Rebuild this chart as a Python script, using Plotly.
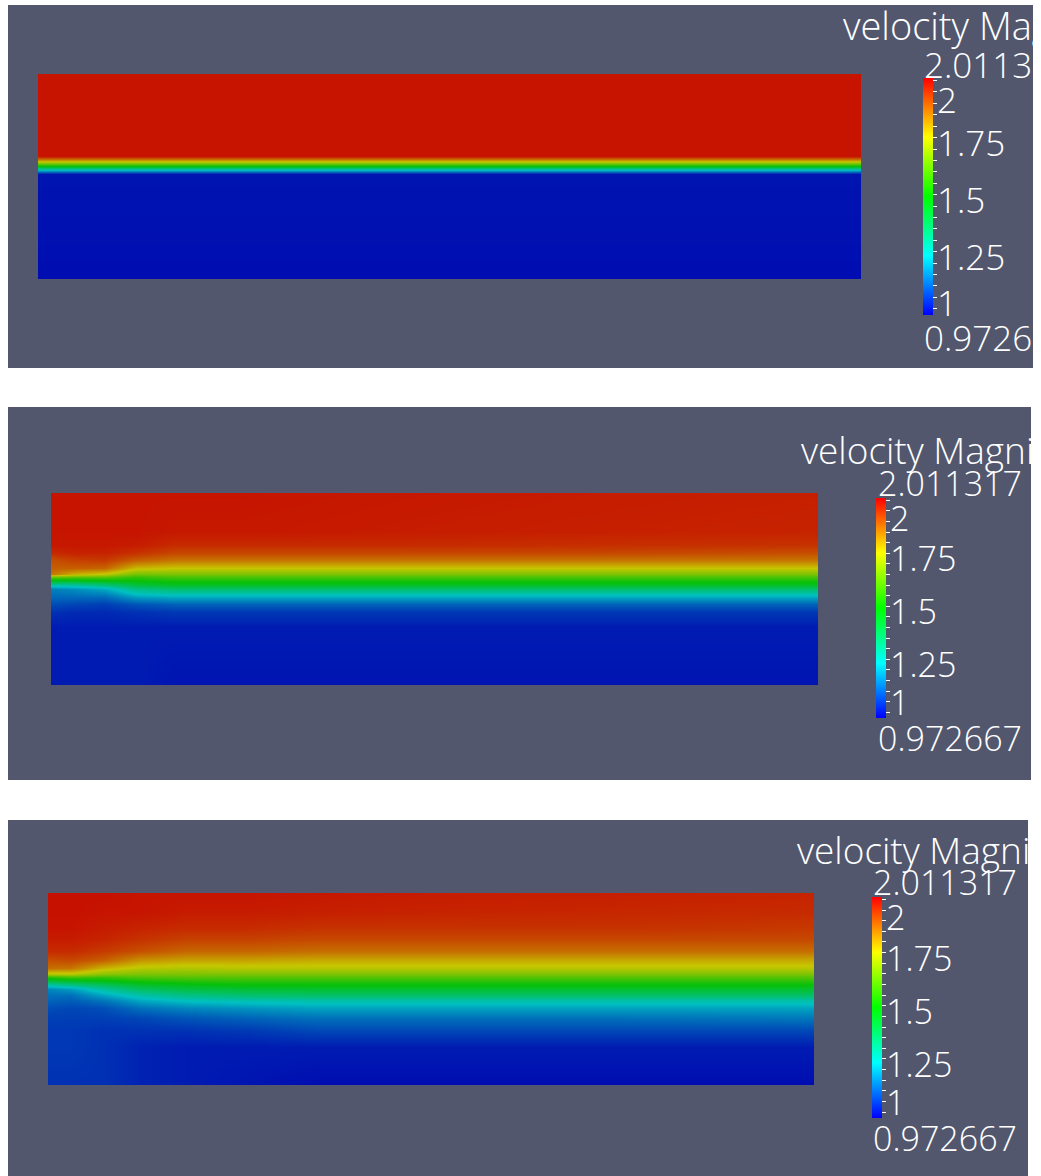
import plotly.graph_objects as go

# ---------------- data (velocity magnitude) ----------------
VMIN = 0.972667
VMAX = 2.011317
COLORBAR_TITLE = "velocity Magnitude"
TICK_VALUES = [2.0, 1.75, 1.5, 1.25, 1.0]

# Panel 1: x stations (fraction of channel length), depth rows (fraction from top)
P1_X = [0.0, 1.0]
P1_DEPTH = [0.0, 0.40, 0.415, 0.43, 0.447, 0.463, 0.478, 0.49, 1.0]
P1_PROFILES = [
    [1.99, 1.99, 1.87, 1.72, 1.49, 1.28, 1.10, 0.99, 0.98],
    [1.99, 1.99, 1.87, 1.72, 1.49, 1.28, 1.10, 0.99, 0.98],
]

# Panel 2
P2_X = [0.0, 0.03, 0.07, 0.11, 0.16, 0.25, 0.45, 0.70, 1.0]
P2_DEPTH = [0.0, 0.20, 0.27, 0.31, 0.35, 0.39, 0.42, 0.44, 0.46, 0.48, 0.50, 0.54, 0.58, 0.62, 0.70, 1.0]
P2_PROFILES = [
    [1.99, 1.99, 1.985, 1.96, 1.91, 1.89, 1.86, 1.62, 1.44, 1.26, 1.14, 1.11, 1.07, 1.03, 1.00, 1.00],
    [1.99, 1.99, 1.985, 1.97, 1.93, 1.89, 1.78, 1.60, 1.44, 1.28, 1.16, 1.11, 1.06, 1.02, 1.00, 1.00],
    [1.99, 1.99, 1.985, 1.97, 1.94, 1.88, 1.74, 1.60, 1.47, 1.33, 1.20, 1.11, 1.05, 1.02, 1.00, 1.00],
    [1.99, 1.99, 1.98, 1.95, 1.89, 1.77, 1.64, 1.55, 1.49, 1.41, 1.31, 1.18, 1.08, 1.03, 1.00, 1.00],
    [1.99, 1.985, 1.96, 1.92, 1.86, 1.75, 1.65, 1.58, 1.51, 1.45, 1.35, 1.20, 1.10, 1.04, 1.00, 0.99],
    [1.99, 1.985, 1.96, 1.92, 1.86, 1.75, 1.65, 1.58, 1.51, 1.45, 1.35, 1.20, 1.10, 1.04, 1.00, 0.99],
    [1.985, 1.98, 1.96, 1.92, 1.86, 1.75, 1.65, 1.58, 1.51, 1.45, 1.35, 1.20, 1.10, 1.04, 1.00, 0.99],
    [1.98, 1.975, 1.955, 1.92, 1.86, 1.75, 1.65, 1.58, 1.51, 1.45, 1.35, 1.20, 1.10, 1.04, 1.00, 0.99],
    [1.975, 1.97, 1.95, 1.91, 1.86, 1.75, 1.65, 1.58, 1.51, 1.45, 1.35, 1.20, 1.10, 1.04, 1.00, 0.99],
]

# Panel 3
P3_X = [0.0, 0.03, 0.07, 0.12, 0.18, 0.26, 0.35, 0.50, 0.75, 1.0]
P3_DEPTH = [0.0, 0.10, 0.18, 0.24, 0.30, 0.35, 0.39, 0.42, 0.44, 0.46, 0.48, 0.50, 0.53, 0.56, 0.60, 0.65, 0.72, 0.80, 1.0]
P3_PROFILES = [
    [1.995, 1.995, 1.99, 1.98, 1.96, 1.91, 1.87, 1.72, 1.54, 1.41, 1.26, 1.15, 1.12, 1.10, 1.07, 1.05, 1.04, 1.04, 1.03],
    [1.995, 1.995, 1.99, 1.98, 1.96, 1.92, 1.86, 1.73, 1.58, 1.44, 1.31, 1.18, 1.12, 1.09, 1.06, 1.05, 1.04, 1.04, 1.03],
    [1.995, 1.99, 1.98, 1.97, 1.94, 1.89, 1.78, 1.67, 1.56, 1.47, 1.37, 1.28, 1.19, 1.12, 1.07, 1.05, 1.03, 1.03, 1.03],
    [1.99, 1.99, 1.97, 1.95, 1.91, 1.82, 1.73, 1.65, 1.59, 1.51, 1.44, 1.37, 1.27, 1.19, 1.12, 1.06, 1.03, 1.01, 1.01],
    [1.99, 1.98, 1.96, 1.93, 1.88, 1.80, 1.72, 1.65, 1.60, 1.53, 1.47, 1.41, 1.32, 1.23, 1.15, 1.08, 1.03, 1.00, 1.00],
    [1.99, 1.98, 1.96, 1.93, 1.88, 1.80, 1.73, 1.65, 1.60, 1.54, 1.49, 1.43, 1.35, 1.25, 1.17, 1.10, 1.04, 1.00, 0.99],
    [1.985, 1.975, 1.95, 1.92, 1.87, 1.79, 1.73, 1.65, 1.60, 1.54, 1.49, 1.44, 1.36, 1.26, 1.19, 1.12, 1.06, 1.00, 0.98],
    [1.98, 1.97, 1.95, 1.92, 1.87, 1.79, 1.73, 1.65, 1.60, 1.54, 1.49, 1.44, 1.36, 1.26, 1.19, 1.12, 1.06, 1.00, 0.98],
    [1.975, 1.965, 1.95, 1.92, 1.87, 1.79, 1.73, 1.65, 1.60, 1.54, 1.49, 1.44, 1.36, 1.26, 1.19, 1.12, 1.06, 1.00, 0.98],
    [1.97, 1.96, 1.94, 1.92, 1.87, 1.79, 1.73, 1.65, 1.60, 1.54, 1.49, 1.44, 1.36, 1.26, 1.19, 1.13, 1.06, 1.00, 0.98],
]

# ---------------- layout / style ----------------
W, H = 1041, 1176
BG = "#52576E"
FONT = "Open Sans"

DARK = [[0.0, "rgb(0,8,176)"], [0.25, "rgb(0,192,194)"], [0.5, "rgb(6,192,10)"],
        [0.75, "rgb(198,198,0)"], [1.0, "rgb(198,4,0)"]]
BRIGHT = [[0.0, "rgb(0,0,255)"], [0.25, "rgb(0,255,255)"], [0.5, "rgb(0,255,0)"],
          [0.75, "rgb(255,255,0)"], [1.0, "rgb(255,0,0)"]]


def fx(px):
    return px / W


def fy(py):
    return 1 - py / H


PANELS = [
    dict(bg=(8, 5, 1033, 368), rect=(38, 74, 861, 279), bar=(923, 78, 315),
         title=(841, 25), top=(922, 65), bot=(922, 338), tsize=38, nsize=35,
         X=P1_X, D=P1_DEPTH, P=P1_PROFILES),
    dict(bg=(8, 407, 1031, 780), rect=(51, 493, 818, 685), bar=(876, 498, 718),
         title=(799, 449), top=(876, 483), bot=(876, 738), tsize=37, nsize=34,
         X=P2_X, D=P2_DEPTH, P=P2_PROFILES),
    dict(bg=(8, 820, 1028, 1176), rect=(48, 893, 814, 1085), bar=(872, 897, 1118),
         title=(795, 849), top=(871, 882), bot=(871, 1138), tsize=37, nsize=34,
         X=P3_X, D=P3_DEPTH, P=P3_PROFILES),
]

fig = go.Figure()
shapes = []
annotations = []
layout_axes = {}


def ann(x, y, text, size):
    return dict(x=fx(x), y=fy(y), xref="paper", yref="paper", text=text,
                showarrow=False, xanchor="left", yanchor="middle",
                font=dict(family=FONT, size=size, color="white", weight=300))


for i, p in enumerate(PANELS, start=1):
    sfx = "" if i == 1 else str(i)
    # grid: rows by depth -> convert to height above bottom (ascending)
    rows = [list(r) for r in zip(*p["P"])]
    yvals = [1 - d for d in p["D"]][::-1]
    zrows = rows[::-1]
    fig.add_trace(go.Heatmap(
        x=p["X"], y=yvals, z=zrows, coloraxis="coloraxis", zsmooth="best",
        xaxis="x" + sfx, yaxis="y" + sfx, hoverinfo="skip"))
    # dummy trace carrying the colour legend bar
    fig.add_trace(go.Scatter(
        x=[-5, -5], y=[-5, -5], mode="markers", xaxis="x" + sfx, yaxis="y" + sfx,
        marker=dict(color=[VMIN, VMAX], coloraxis="coloraxis%d" % (i + 1), size=1),
        hoverinfo="skip", showlegend=False))

    x0, y0, x1, y1 = p["rect"]
    layout_axes["xaxis" + sfx] = dict(domain=[fx(x0), fx(x1)], range=[0, 1], visible=False,
                                      fixedrange=True, anchor="y" + sfx)
    layout_axes["yaxis" + sfx] = dict(domain=[fy(y1), fy(y0)], range=[0, 1], visible=False,
                                      fixedrange=True, anchor="x" + sfx)

    bx0, by0, bx1, by1 = p["bg"]
    shapes.append(dict(type="rect", xref="paper", yref="paper", x0=fx(bx0), x1=fx(bx1),
                       y0=fy(by1), y1=fy(by0), fillcolor=BG, line=dict(width=0), layer="below"))

    cbx, cbt, cbb = p["bar"]
    layout_axes["coloraxis%d" % (i + 1)] = dict(
        cmin=VMIN, cmax=VMAX, colorscale=BRIGHT, showscale=True,
        colorbar=dict(x=fx(cbx), xanchor="left", y=fy((cbt + cbb) / 2), yanchor="middle",
                      len=cbb - cbt, lenmode="pixels", thickness=10, thicknessmode="pixels",
                      xpad=0, ypad=0, outlinewidth=0, borderwidth=0,
                      ticks="outside", ticklen=4, tickwidth=1, tickcolor="white",
                      tickmode="linear", tick0=1.0, dtick=0.05, showticklabels=False))

    # text
    annotations.append(ann(p["title"][0], p["title"][1], COLORBAR_TITLE, p["tsize"]))
    annotations.append(ann(p["top"][0], p["top"][1], "%.6f" % VMAX, p["nsize"]))
    annotations.append(ann(p["bot"][0], p["bot"][1], "%.6f" % VMIN, p["nsize"]))
    span = cbb - cbt
    for v in TICK_VALUES:
        ly = cbb - (v - VMIN) / (VMAX - VMIN) * span + 5
        ly = max(ly, p["top"][1] + 35)
        ly = min(ly, p["bot"][1] - 36)
        annotations.append(ann(cbx + 12, ly, "{:g}".format(v), p["nsize"]))

fig.update_layout(
    width=W, height=H, autosize=False,
    margin=dict(l=0, r=0, t=0, b=0, pad=0),
    paper_bgcolor="white", plot_bgcolor="rgba(0,0,0,0)",
    showlegend=False,
    coloraxis=dict(cmin=VMIN, cmax=VMAX, colorscale=DARK, showscale=False),
    shapes=shapes, annotations=annotations,
    **layout_axes,
)

fig.write_html("out.html", config={"displayModeBar": False},
               post_script="document.body.style.margin='0px';")
